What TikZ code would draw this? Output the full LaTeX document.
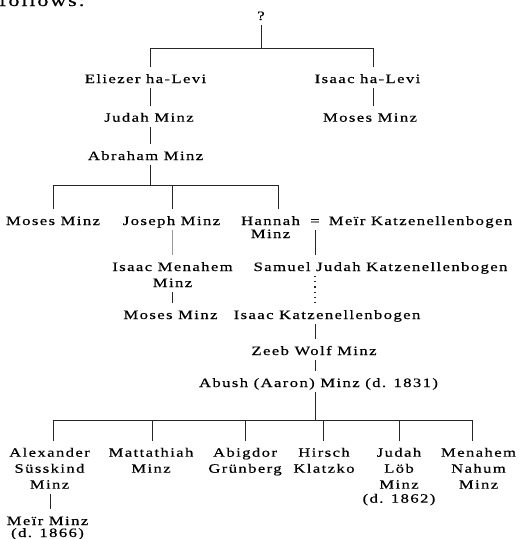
\documentclass[tikz,border=0pt]{standalone}
\usepackage{fontspec}
\setmainfont{Liberation Serif}[FakeStretch=1.3,LetterSpace=11,FakeBold=0.5]
\newcommand{\pfont}{\fontsize{12.8pt}{16pt}\selectfont}
\newcommand{\ppl}[1]{\begin{tabular}[t]{@{}c@{}}\rule{0pt}{15.5pt}#1\end{tabular}}
\begin{document}
\begin{tikzpicture}[x=1pt,y=-1pt,
  person/.style={font=\pfont, inner sep=0pt, anchor=base},
  link/.style={line width=1pt, draw=black!85},
  faint/.style={line width=0.4pt, draw=black!40},
  dotline/.style={line width=1.2pt, draw=black!85, dash pattern=on 1.2pt off 4pt}]
\useasboundingbox (0,0) rectangle (521,539);
\node[anchor=base west, inner sep=0pt, font=\fontsize{17pt}{20pt}\selectfont] (follows) at (-1,6) {follows:};
% people
\node[person] (q) at (261,20) {\ppl{?}};
\node[person] (eli) at (145.5,83) {\ppl{Eliezer ha-Levi}};
\node[person] (isaac) at (367.5,83) {\ppl{Isaac ha-Levi}};
\node[person] (judah) at (149,121.7) {\ppl{Judah Minz}};
\node[person] (moses1) at (370,121.7) {\ppl{Moses Minz}};
\node[person] (abraham) at (145.5,160) {\ppl{Abraham Minz}};
\node[person] (moses2) at (53,225) {\ppl{Moses Minz}};
\node[person] (joseph) at (171.5,225) {\ppl{Joseph Minz}};
\node[person] (hannah) at (270.5,225) {\ppl{Hannah\\[-3pt]Minz}};
\node[person] (eq) at (315,225) {\ppl{=}};
\node[person] (meir) at (420.5,225) {\ppl{Meïr Katzenellenbogen}};
\node[person] (isaacm) at (172.5,271) {\ppl{Isaac Menahem\\Minz}};
\node[person] (samuel) at (380.5,271) {\ppl{Samuel Judah Katzenellenbogen}};
\node[person] (moses3) at (170.5,319) {\ppl{Moses Minz}};
\node[person] (isaack) at (327,319) {\ppl{Isaac Katzenellenbogen}};
\node[person] (zeeb) at (314,355) {\ppl{Zeeb Wolf Minz}};
\node[person] (abush) at (318.5,387) {\ppl{Abush (Aaron) Minz (d. 1831)}};
\node[person] (alex) at (49.5,456.7) {\ppl{Alexander\\Süsskind\\Minz}};
\node[person] (matt) at (151,456.7) {\ppl{Mattathiah\\Minz}};
\node[person] (abig) at (245,456.7) {\ppl{Abigdor\\Grünberg}};
\node[person] (hirsch) at (324,456.7) {\ppl{Hirsch\\Klatzko}};
\node[person] (judahl) at (399,456.7) {\ppl{Judah\\Löb\\Minz\\[-2pt](d. 1862)}};
\node[person] (menahem) at (478.5,456.7) {\ppl{Menahem\\Nahum\\Minz}};
\node[person] (meirm) at (47.5,525) {\ppl{Meïr Minz\\[-4pt](d. 1866)}};
% spine coordinates
\coordinate (b1L) at (150,48);
\coordinate (b1R) at (373,48);
\coordinate (b2L) at (53,185);
\coordinate (b2M) at (172,185);
\coordinate (b2R) at (278,185);
\coordinate (b3L) at (53,420);
\coordinate (b3R) at (472,420);
\coordinate (c2) at (152,420);
\coordinate (c3) at (245,420);
\coordinate (c4) at (323,420);
\coordinate (c5) at (399,420);
\coordinate (ax) at (50.5,490);
% connectors
\draw[link] (q.south) -- (q.south |- b1L);
\draw[link] (b1L) -- (b1R);
\draw[link] (b1L) -- (b1L |- eli.north);
\draw[link] (b1R) -- (b1R |- isaac.north);
\draw[link] (b1L |- eli.south) -- (b1L |- judah.north);
\draw[link] (b1R |- isaac.south) -- (b1R |- moses1.north);
\draw[link] (b1L |- judah.south) -- (b1L |- abraham.north);
\draw[link] (b1L |- abraham.south) -- (b1L |- b2L);
\draw[link] (b2L) -- (b2R);
\draw[link] (b2L) -- (b2L |- moses2.north);
\draw[link] (b2M) -- (b2M |- joseph.north);
\draw[link] (b2R) -- (b2R |- hannah.north);
\draw[faint] (b2M |- joseph.south) -- (b2M |- isaacm.north);
\draw[link] (eq.south) -- (eq.south |- samuel.north);
\draw[dotline] (eq.south |- samuel.south) -- (eq.south |- isaack.north);
\draw[link] (b2M |- isaacm.south) -- (b2M |- moses3.north);
\draw[link] (eq.south |- isaack.south) -- (eq.south |- zeeb.north);
\draw[link] (eq.south |- zeeb.south) -- (eq.south |- abush.north);
\draw[link] (eq.south |- abush.south) -- (eq.south |- b3L);
\draw[link] (b3L) -- (b3R);
\draw[link] (b3L) -- (b3L |- alex.north);
\draw[link] (c2) -- (c2 |- matt.north);
\draw[link] (c3) -- (c3 |- abig.north);
\draw[link] (c4) -- (c4 |- hirsch.north);
\draw[link] (c5) -- (c5 |- judahl.north);
\draw[link] (b3R) -- (b3R |- menahem.north);
\draw[link] (ax |- alex.south) -- (ax |- meirm.north);
\end{tikzpicture}
\end{document}
